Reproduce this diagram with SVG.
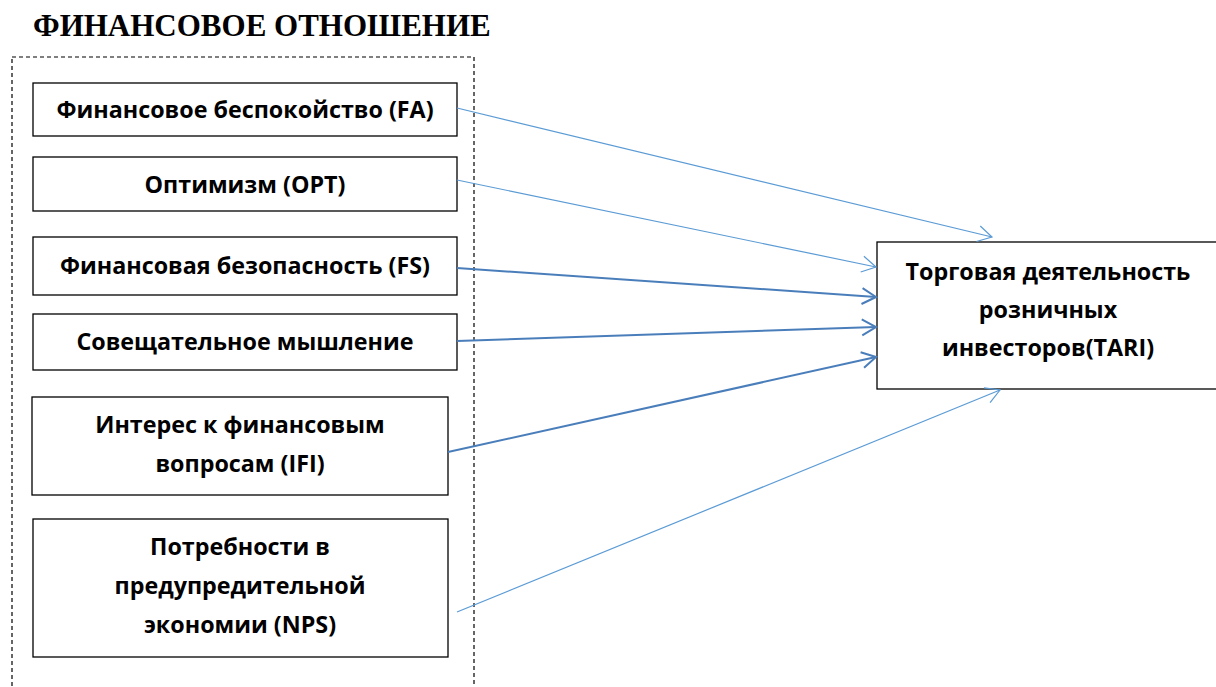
<svg xmlns="http://www.w3.org/2000/svg" width="1216" height="687" viewBox="0 0 1216 687">
<style>
.box{fill:#fff;stroke:#000;stroke-width:1.3}
.t{font-family:"Open Sans","Liberation Sans",sans-serif;font-weight:bold;font-size:23.3px;fill:#000;text-anchor:middle}
.title{font-family:"Liberation Serif",serif;font-weight:bold;font-size:31px;fill:#000}
.thin{stroke:#5b9bd5;stroke-width:1.2;fill:none}
.thick{stroke:#4a7ebb;stroke-width:2;fill:none}
</style>
<defs>
<marker id="ah1" markerUnits="userSpaceOnUse" markerWidth="20" markerHeight="20" refX="15" refY="9" orient="auto" overflow="visible">
<path d="M1,1 L15,9 L1,17" fill="none" stroke="#5b9bd5" stroke-width="1.2"/>
</marker>
<marker id="ah2" markerUnits="userSpaceOnUse" markerWidth="20" markerHeight="20" refX="15" refY="9" orient="auto" overflow="visible">
<path d="M1,1 L15,9 L1,17" fill="none" stroke="#4a7ebb" stroke-width="2"/>
</marker>
</defs>
<rect width="1216" height="687" fill="#fff"/>
<text class="title" x="33" y="36">ФИНАНСОВОЕ ОТНОШЕНИЕ</text>
<rect x="12" y="57" width="462" height="640" fill="none" stroke="#000" stroke-width="1.2" stroke-dasharray="4,3"/>
<g id="fa"><rect class="box" x="33" y="83" width="424" height="53"/><text class="t" x="245" y="118">Финансовое беспокойство (FA)</text></g>
<g id="opt"><rect class="box" x="33" y="157" width="424" height="54"/><text class="t" x="245" y="193">Оптимизм (OPT)</text></g>
<g id="fs"><rect class="box" x="33" y="237" width="424" height="58"/><text class="t" x="245" y="274">Финансовая безопасность (FS)</text></g>
<g id="dm"><rect class="box" x="33" y="314" width="424" height="56"/><text class="t" x="245" y="350">Совещательное мышление</text></g>
<g id="ifi"><rect class="box" x="32" y="397" width="416" height="98"/><text class="t" x="240" y="433">Интерес к финансовым</text><text class="t" x="240" y="472">вопросам (IFI)</text></g>
<g id="nps"><rect class="box" x="33" y="519" width="415" height="138"/><text class="t" x="240" y="555">Потребности в</text><text class="t" x="240" y="594">предупредительной</text><text class="t" x="240" y="633">экономии (NPS)</text></g>
<g id="tari"><rect class="box" x="877" y="242" width="345" height="147"/><text class="t" x="1048" y="280">Торговая деятельность</text><text class="t" x="1048" y="318">розничных</text><text class="t" x="1048" y="356">инвесторов(TARI)</text></g>
<g id="connectors">
<line class="thin" x1="457" y1="108" x2="992" y2="237" marker-end="url(#ah1)"/>
<line class="thin" x1="457" y1="180" x2="876" y2="267" marker-end="url(#ah1)"/>
<line class="thick" x1="457" y1="268" x2="876" y2="297" marker-end="url(#ah2)"/>
<line class="thick" x1="457" y1="341" x2="876" y2="327" marker-end="url(#ah2)"/>
<line class="thick" x1="448" y1="452" x2="876" y2="357" marker-end="url(#ah2)"/>
<line class="thin" x1="457" y1="612" x2="1000" y2="390" marker-end="url(#ah1)"/>
</g>
</svg>
